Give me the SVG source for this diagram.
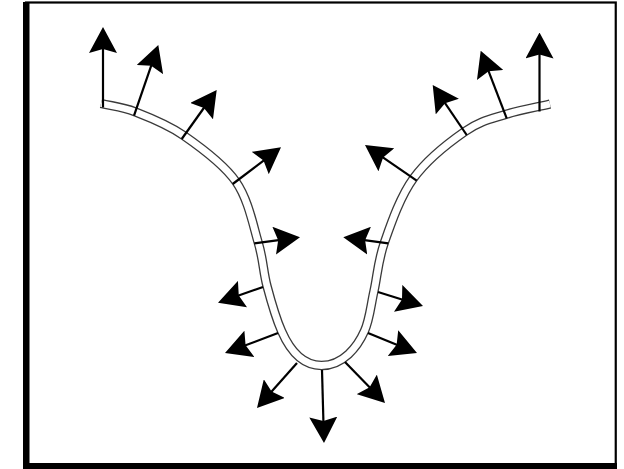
<svg xmlns="http://www.w3.org/2000/svg" width="624" height="469" viewBox="0 0 624 469">
<style>
.tube-out{fill:none;stroke:#3a3a3a;stroke-width:9.4}
.tube-in{fill:none;stroke:#fff;stroke-width:6.8}
.arr{fill:none;stroke:#000;stroke-width:2.2;marker-end:url(#head)}
</style>
<defs>
<marker id="head" markerUnits="userSpaceOnUse" markerWidth="26" markerHeight="28" viewBox="0 0 26 28" refX="14" refY="14" orient="auto">
<path d="M0,0 L26,14 L0,28 L4,14 Z" fill="#000"/>
</marker>
<path id="tubeline" d="M101,103.5 C112.4,106.3 121.4,106.55 135.2,111.9 C149,117.25 167.02,123.98 183.8,135.6 C200.58,147.22 223.5,163.78 235.9,181.6 C248.3,199.42 253.02,225.1 258.2,242.5 C263.38,259.9 263.1,271.22 267,286 C270.9,300.78 276.2,318.9 281.6,331.2 C288.4,346.8 300,365.5 321.5,365.5 C343,365.5 357.6,346.8 364.4,331.2 C369.63,319.9 370.67,305.78 374,291 C377.33,276.22 377.82,261.28 384.4,242.5 C390.98,223.72 400.12,196.78 413.5,178.3 C426.88,159.82 449.37,142.23 464.7,131.6 C480.03,120.97 491.28,119.02 505.5,114.5 C519.72,109.98 535.17,107.5 550,104"/>
</defs>
<rect x="0" y="0" width="624" height="469" fill="#fff"/>
<g id="frame">
<rect x="26" y="2.5" width="589.75" height="462" fill="#fff" stroke="#000" stroke-width="2.2"/>
<rect x="23" y="2" width="6.5" height="467" fill="#000"/>
<rect x="23" y="463" width="594" height="6" fill="#000"/>
</g>
<g id="tube">
<use href="#tubeline" class="tube-out"/>
<use href="#tubeline" class="tube-in"/>
</g>
<g id="connectors">
<line class="arr" x1="103" y1="107.5" x2="103" y2="39"/>
<line class="arr" x1="134" y1="115.7" x2="154.4" y2="56.35"/>
<line class="arr" x1="181.7" y1="139" x2="209.73" y2="99.76"/>
<line class="arr" x1="232.7" y1="184" x2="271.45" y2="154.56"/>
<line class="arr" x1="254.3" y1="243.3" x2="288.1" y2="238.86"/>
<line class="arr" x1="263" y1="287" x2="229.33" y2="298.75"/>
<line class="arr" x1="278" y1="333" x2="236.23" y2="348.76"/>
<line class="arr" x1="297" y1="363" x2="264.97" y2="399.03"/>
<line class="arr" x1="322" y1="370" x2="323.67" y2="431"/>
<line class="arr" x1="345" y1="362" x2="376.62" y2="394.41"/>
<line class="arr" x1="368" y1="333" x2="405.89" y2="348.47"/>
<line class="arr" x1="378" y1="292" x2="411.54" y2="302.43"/>
<line class="arr" x1="388.3" y1="243.3" x2="355.19" y2="238.89"/>
<line class="arr" x1="416.7" y1="180.7" x2="374.87" y2="151.82"/>
<line class="arr" x1="466.7" y1="135" x2="439.45" y2="94.92"/>
<line class="arr" x1="506.7" y1="118.3" x2="485.01" y2="61.9"/>
<line class="arr" x1="539.5" y1="111.5" x2="539.5" y2="44.5"/>
</g>
</svg>
